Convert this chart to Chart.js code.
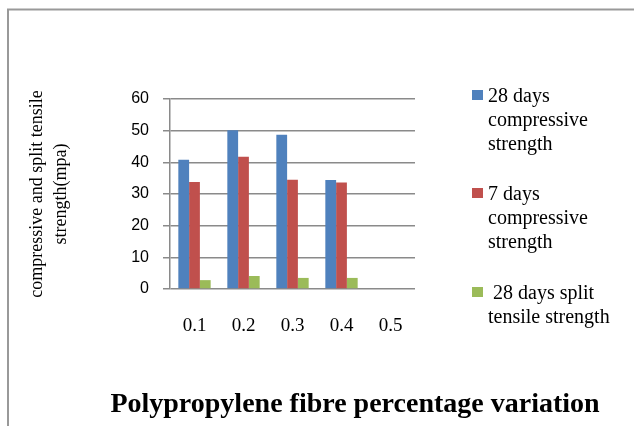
<!DOCTYPE html>
<html>
<head>
<meta charset="utf-8">
<script src="https://cdn.jsdelivr.net/npm/chart.js@4"></script>
<style>
  html, body { margin: 0; padding: 0; background: #ffffff; }
  #wrap { width: 634px; height: 426px; }
</style>
</head>
<body>
<div id="wrap"><canvas id="c" width="634" height="426"></canvas></div>
<script>
// ---- data ----
const categories = ['0.1', '0.2', '0.3', '0.4', '0.5'];
const compressive28 = [40.8, 50.1, 48.7, 34.4, null];
const compressive7 = [33.8, 41.8, 34.5, 33.6, null];
const splitTensile28 = [2.8, 4.1, 3.5, 3.5, null];
const seriesNames = [
  ['28 days', 'compressive', 'strength'],
  ['7 days', 'compressive', 'strength'],
  [' 28 days split', 'tensile strength']
];
const yTicks = [0, 10, 20, 30, 40, 50, 60];
const yTitle = ['compressive and split tensile', 'strength(mpa)'];
const xTitle = 'Polypropylene fibre percentage variation';

const colors = ['#4F81BD', '#C0504D', '#9BBB59'];
const gridColor = '#8a8a8a';
const serif = "'Liberation Serif', 'Times New Roman', serif";
const sans = "'Liberation Sans', Arial, sans-serif";

const frame = {
  id: 'frame',
  beforeDraw(chart) {
    const ctx = chart.ctx;
    ctx.save();
    ctx.fillStyle = '#ffffff';
    ctx.fillRect(0, 0, chart.width, chart.height);
    ctx.strokeStyle = '#999999';
    ctx.lineWidth = 2;
    ctx.beginPath();
    ctx.moveTo(8, 426);
    ctx.lineTo(8, 9.5);
    ctx.lineTo(634, 9.5);
    ctx.stroke();
    ctx.restore();
  }
};

const sideLegend = {
  id: 'sideLegend',
  afterDraw(chart) {
    const ctx = chart.ctx;
    const tops = [90, 188, 287];
    ctx.save();
    ctx.font = '20px ' + serif;
    ctx.textBaseline = 'middle';
    ctx.textAlign = 'left';
    chart.data.datasets.forEach((ds, i) => {
      const y0 = tops[i];
      ctx.fillStyle = ds.backgroundColor;
      ctx.fillRect(472, y0, 11, 10);
      ctx.fillStyle = '#000000';
      ds.legendLines.forEach((line, j) => {
        ctx.fillText(line, 488, y0 + 7 + j * 24);
      });
    });
    ctx.restore();
  }
};

const bottomTitle = {
  id: 'bottomTitle',
  afterDraw(chart) {
    const ctx = chart.ctx;
    ctx.save();
    ctx.font = 'bold 28px ' + serif;
    ctx.fillStyle = '#000000';
    ctx.textAlign = 'center';
    ctx.textBaseline = 'middle';
    ctx.fillText(xTitle, 355, 405);
    ctx.restore();
  }
};

new Chart(document.getElementById('c'), {
  type: 'bar',
  data: {
    labels: categories,
    datasets: [
      { label: seriesNames[0].join(' '), legendLines: seriesNames[0], data: compressive28, backgroundColor: colors[0] },
      { label: seriesNames[1].join(' '), legendLines: seriesNames[1], data: compressive7, backgroundColor: colors[1] },
      { label: seriesNames[2].join(' '), legendLines: seriesNames[2], data: splitTensile28, backgroundColor: colors[2] }
    ]
  },
  options: {
    responsive: false,
    devicePixelRatio: 1,
    animation: false,
    layout: { padding: { left: 14, top: 99, right: 219, bottom: 0 } },
    datasets: { bar: { barPercentage: 1.0, categoryPercentage: 0.66 } },
    plugins: {
      legend: { display: false },
      title: { display: false },
      tooltip: { enabled: false }
    },
    scales: {
      x: {
        grid: { display: false, drawTicks: false },
        border: { display: false },
        ticks: { color: '#000000', font: { family: serif, size: 19 }, padding: 26 },
        afterFit(scale) { scale.height = 137; }
      },
      y: {
        min: 0,
        max: 60,
        afterBuildTicks(scale) { scale.ticks = yTicks.map(v => ({ value: v })); },
        grid: { color: gridColor, lineWidth: 1.5, tickLength: 7 },
        border: { display: true, color: gridColor, width: 1.5 },
        ticks: { color: '#000000', font: { family: sans, size: 16 }, padding: 14 },
        title: {
          display: true,
          text: yTitle,
          color: '#000000',
          font: { family: serif, size: 18, lineHeight: 1.35 },
          padding: { top: 11, bottom: 0 }
        },
        afterFit(scale) { scale.width = 156; }
      }
    }
  },
  plugins: [frame, sideLegend, bottomTitle]
});
</script>
</body>
</html>
